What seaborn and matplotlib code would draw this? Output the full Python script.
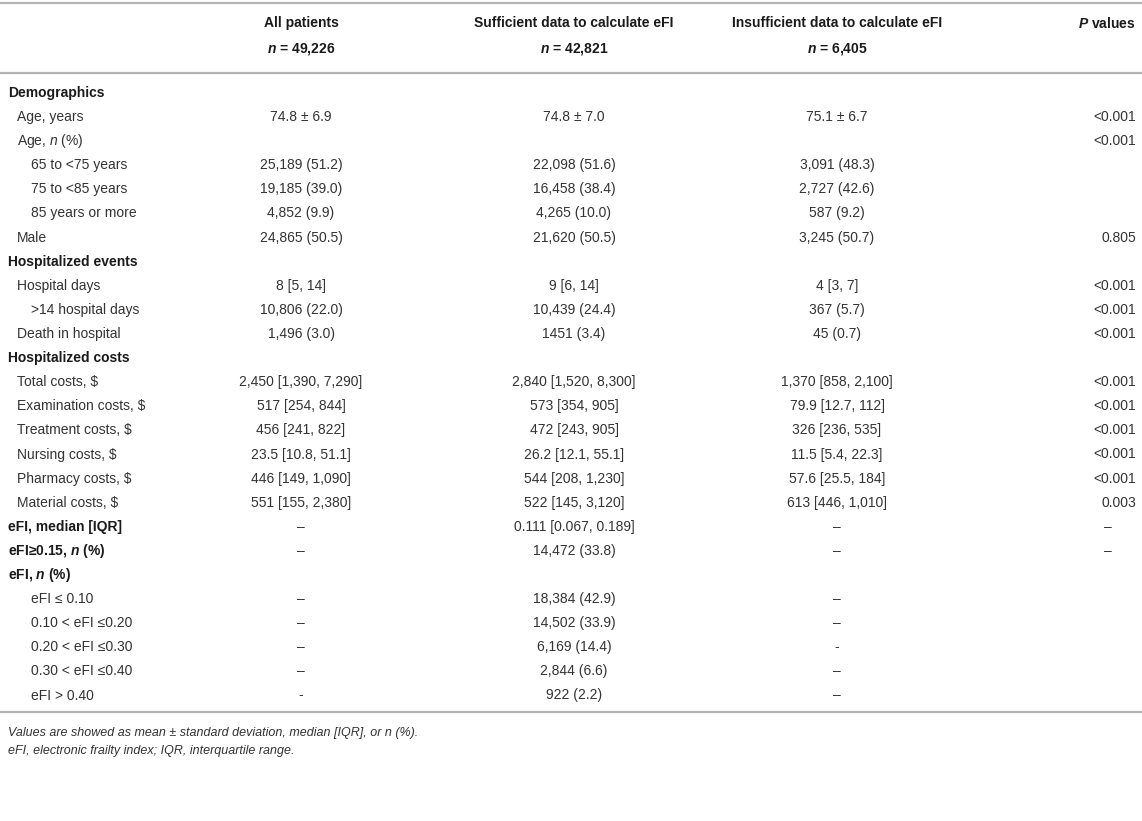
import matplotlib
matplotlib.use("Agg")
import matplotlib.pyplot as plt
import seaborn as sns

# table content
headers = ["All patients", "Sufficient data to calculate eFI", "Insufficient data to calculate eFI"]
header_n = ["49,226", "42,821", "6,405"]

row_labels = ["Demographics", "Age, years", "Age, $\\mathit{n}$ (%)", "65 to <75 years", "75 to <85 years",
              "85 years or more", "Male", "Hospitalized events", "Hospital days", ">14 hospital days",
              "Death in hospital", "Hospitalized costs", "Total costs, $", "Examination costs, $",
              "Treatment costs, $", "Nursing costs, $", "Pharmacy costs, $", "Material costs, $",
              "eFI, median [IQR]", "eFI≥0.15, $\\mathbfit{n}$ (%)", "eFI, $\\mathbfit{n}$ (%)",
              "eFI ≤ 0.10", "0.10 < eFI ≤0.20", "0.20 < eFI ≤0.30", "0.30 < eFI ≤0.40", "eFI > 0.40"]
row_levels = [0, 1, 1, 2, 2, 2, 1, 0, 1, 2, 1, 0, 1, 1, 1, 1, 1, 1, 0, 0, 0, 2, 2, 2, 2, 2]

all_patients = ["", "74.8 ± 6.9", "", "25,189 (51.2)", "19,185 (39.0)", "4,852 (9.9)", "24,865 (50.5)",
                "", "8 [5, 14]", "10,806 (22.0)", "1,496 (3.0)", "", "2,450 [1,390, 7,290]",
                "517 [254, 844]", "456 [241, 822]", "23.5 [10.8, 51.1]", "446 [149, 1,090]",
                "551 [155, 2,380]", "–", "–", "", "–", "–", "–", "–", "-"]
sufficient = ["", "74.8 ± 7.0", "", "22,098 (51.6)", "16,458 (38.4)", "4,265 (10.0)", "21,620 (50.5)",
              "", "9 [6, 14]", "10,439 (24.4)", "1451 (3.4)", "", "2,840 [1,520, 8,300]",
              "573 [354, 905]", "472 [243, 905]", "26.2 [12.1, 55.1]", "544 [208, 1,230]",
              "522 [145, 3,120]", "0.111 [0.067, 0.189]", "14,472 (33.8)", "", "18,384 (42.9)",
              "14,502 (33.9)", "6,169 (14.4)", "2,844 (6.6)", "922 (2.2)"]
insufficient = ["", "75.1 ± 6.7", "", "3,091 (48.3)", "2,727 (42.6)", "587 (9.2)", "3,245 (50.7)",
                "", "4 [3, 7]", "367 (5.7)", "45 (0.7)", "", "1,370 [858, 2,100]",
                "79.9 [12.7, 112]", "326 [236, 535]", "11.5 [5.4, 22.3]", "57.6 [25.5, 184]",
                "613 [446, 1,010]", "–", "–", "", "–", "–", "-", "–", "–"]
p_values = ["", "<0.001", "<0.001", "", "", "", "0.805", "", "<0.001", "<0.001", "<0.001", "",
            "<0.001", "<0.001", "<0.001", "<0.001", "<0.001", "0.003", "–", "–", "", "", "", "", "", ""]

footnotes = ["Values are showed as mean ± standard deviation, median [IQR], or n (%).",
             "eFI, electronic frailty index; IQR, interquartile range."]

sns.set_theme(style="white")
plt.rcParams["font.family"] = ["Liberation Sans", "DejaVu Sans"]
plt.rcParams["mathtext.fontset"] = "custom"
plt.rcParams["mathtext.rm"] = "Liberation Sans"
plt.rcParams["mathtext.it"] = "Liberation Sans:italic"
plt.rcParams["mathtext.bf"] = "Liberation Sans:bold"
plt.rcParams["mathtext.bfit"] = "Liberation Sans:italic:bold"

W, H = 1142, 821
fig = plt.figure(figsize=(W / 100, H / 100), dpi=100)
ax = fig.add_axes([0, 0, 1, 1])
ax.set_xlim(0, W)
ax.set_ylim(H, 0)
ax.axis("off")

txt = "#1a1a1a"
body = "#333333"
fs = 10
col_x = [301, 574, 837]
p_right = 1136
indent = {0: 8, 1: 17, 2: 31}
row0, step = 93, 24.1

# rules
for yy in (3, 73, 712):
    ax.axhline(yy, color="#b4b4b4", lw=1.6)

# header
for cx, h, n in zip(col_x, headers, header_n):
    ax.text(cx, 23, h, ha="center", va="center", fontsize=fs, fontweight="bold", color=txt)
    ax.text(cx, 49, "$\\mathbfit{n}$ = " + n, ha="center", va="center", fontsize=fs,
            fontweight="bold", color=txt)
ax.text(p_right, 23, "$\\mathbfit{P}$ values", ha="right", va="center", fontsize=fs,
        fontweight="bold", color=txt)

for i, lab in enumerate(row_labels):
    y = row0 + i * step
    lvl = row_levels[i]
    ax.text(indent[lvl], y, lab, ha="left", va="center", fontsize=fs,
            color=txt if lvl == 0 else body, fontweight="bold" if lvl == 0 else "normal")
    for cx, col in zip(col_x, (all_patients, sufficient, insufficient)):
        if col[i]:
            ax.text(cx, y, col[i], ha="center", va="center", fontsize=fs, color=body)
    pv = p_values[i]
    if pv in ("–", "-"):
        ax.text(1108, y, pv, ha="center", va="center", fontsize=fs, color=body)
    elif pv:
        ax.text(p_right, y, pv, ha="right", va="center", fontsize=fs, color=body)

for k, fn in enumerate(footnotes):
    ax.text(8, 733 + k * 18, fn, ha="left", va="center", fontsize=9, style="italic", color=body)

fig.savefig("out.png", dpi=100)
